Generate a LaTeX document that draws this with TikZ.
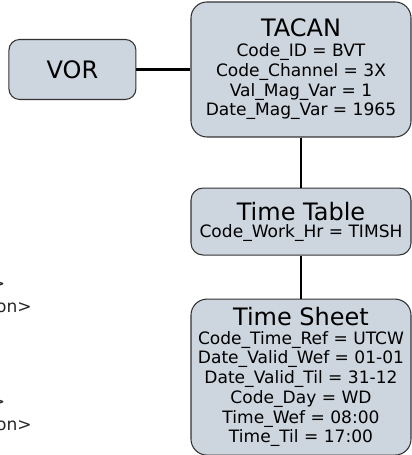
\documentclass[tikz,border=0pt]{standalone}
\usepackage{fontspec}
\setmainfont{DejaVu Sans}
\usetikzlibrary{positioning}

\definecolor{boxfill}{HTML}{CDD5DF}
\definecolor{boxline}{HTML}{333333}

\newcommand{\attrfont}{\fontsize{12.8}{14.8}\selectfont}
\newcommand{\titlefont}{\fontsize{18}{20}\selectfont}

\tikzset{
	entity/.style={draw=boxline, fill=boxfill, line width=0.8pt, rounded corners=12pt,
		align=center, inner sep=0pt, minimum width=165pt, font=\attrfont},
	link/.style={line width=2pt},
	note/.style={inner sep=0pt, font=\attrfont, text=black!85},
}

\begin{document}
\begin{tikzpicture}
	\useasboundingbox (0,0) rectangle (309pt,-341.25pt);

	\node[entity, minimum height=101.25pt] at (225.75pt,-52.1pt) (tacan) {{\titlefont TACAN}\\[0pt]
		Code\_ID = BVT\\ Code\_Channel = 3X\\ Val\_Mag\_Var = 1\\ Date\_Mag\_Var = 1965};
	\node[entity, left=40.5pt of tacan, minimum width=95.25pt, minimum height=45pt, rounded corners=8pt] (vor) {\titlefont VOR};

	\node[entity, below=37.5pt of tacan, minimum height=50.25pt, rounded corners=9pt] (timetable) {{\titlefont Time Table}\\[-2pt]
		Code\_Work\_Hr = TIMSH};
	\node[entity, below=32.25pt of timetable, minimum height=117pt] (timesheet) {{\titlefont Time Sheet}\\[-1pt]
		Code\_Time\_Ref = UTCW\\ Date\_Valid\_Wef = 01-01\\ Date\_Valid\_Til = 31-12\\
		Code\_Day = WD\\ Time\_Wef = 08:00\\ Time\_Til = 17:00};

	% cut-off labels at the left edge
	\node[note, anchor=east] at (4pt,-213.75pt) (cuta) {>};
	\node[note, anchor=east] at (24pt,-231pt) (cutb) {on>};
	\node[note, anchor=east] at (4pt,-302.25pt) (cutc) {>};
	\node[note, anchor=east] at (24pt,-319.5pt) (cutd) {on>};

	\draw[link] (vor) -- (tacan);
	\draw[link] (tacan) -- (timetable);
	\draw[link] (timetable) -- (timesheet);
\end{tikzpicture}
\end{document}
